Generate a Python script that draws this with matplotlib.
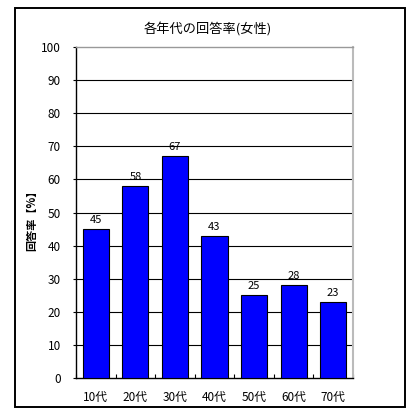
import matplotlib
matplotlib.use("Agg")
import matplotlib.pyplot as plt
from matplotlib.patches import Rectangle
import numpy as np

plt.rcParams['font.family'] = ['Noto Sans CJK JP', 'DejaVu Sans']

categories = ["10代", "20代", "30代", "40代", "50代", "60代", "70代"]
values = [45, 58, 67, 43, 25, 28, 23]
yticks = list(range(0, 101, 10))
title = "各年代の回答率(女性)"
ylabel = "回答率【%】"

fig = plt.figure(figsize=(4.08, 4.08), dpi=100)
fig.patches.append(Rectangle((15/408, 1-407/408), 390/408, 399/408, transform=fig.transFigure,
                             fill=False, edgecolor='black', linewidth=1.4, zorder=0))
ax = fig.add_axes([76/408, 1-378/408, (353-76)/408, (378-47)/408])
x = np.arange(len(categories))
bars = ax.bar(x, values, width=0.66, color='#0000ff', edgecolor='black', linewidth=0.8, zorder=3)
for xi, v in zip(x, values):
    ax.text(xi, v + 1.2, str(v), ha='center', va='bottom', fontsize=8, zorder=4)

ax.set_xlim(-0.5, len(categories) - 0.5)
ax.set_ylim(0, 100)
ax.set_yticks(yticks)
ax.set_yticklabels([str(t) for t in yticks], fontsize=8.5)
ax.set_xticks(x)
ax.set_xticklabels(categories, fontsize=8.5)
ax.tick_params(axis='x', length=0, pad=9)
ax.set_xticks(np.arange(-0.5, len(categories), 1), minor=True)
ax.tick_params(axis='x', which='minor', direction='in', length=3, width=0.8)
ax.tick_params(axis='y', direction='out', length=2, width=0.8, pad=9)
for t in yticks[1:-1]:
    ax.axhline(t, color='black', linewidth=0.8, zorder=1)
ax.spines['top'].set_color('#999999')
ax.spines['right'].set_color('#bbbbbb')
ax.spines['left'].set_linewidth(1.0)
ax.spines['bottom'].set_linewidth(1.0)
ax.spines['top'].set_linewidth(1.0)
ax.spines['right'].set_linewidth(1.5)

fig.text(208/408, 1-30/408, title, ha='center', va='center', fontsize=9.5)
fig.text(32/408, 1-218/408, ylabel, ha='center', va='center', rotation=90, fontsize=8, fontweight='bold')

fig.savefig("out.png", dpi=100)
